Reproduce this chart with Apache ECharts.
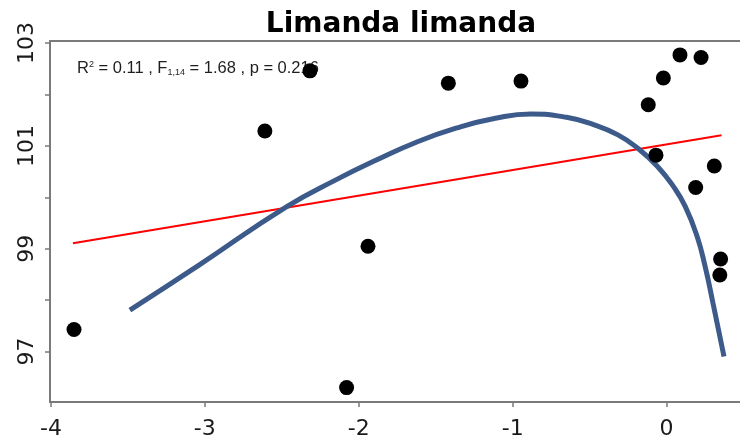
<!DOCTYPE html>
<html>
<head>
<meta charset="utf-8">
<script src="https://cdn.jsdelivr.net/npm/echarts@6/dist/echarts.min.js"></script>
<style>
  html, body { margin: 0; padding: 0; background: #fff; }
  #chart { width: 740px; height: 447px; }
</style>
</head>
<body>
<div id="chart"></div>
<script>
// Observed samples: x = predictor, y = response
const obsX = [-3.85, -2.61, -2.317, -2.079, -1.94, -1.418, -0.946, -0.119, -0.021, 0.087, 0.224, -0.069, 0.31, 0.189, 0.351, 0.346];
const obsY = [97.43, 101.29, 102.46, 96.30, 99.05, 102.22, 102.26, 101.80, 102.32, 102.77, 102.72, 100.82, 100.61, 100.19, 98.80, 98.49];

// Linear fit end points
const linX = [-3.857, 0.357];
const linY = [99.105, 101.206];

// Non-linear fitted curve
const curveX = [-3.487, -3.038, -2.473, -2.139, -1.882, -1.626, -1.368, -1.112, -0.881, -0.650, -0.470, -0.316, -0.187, -0.059, 0.044, 0.121, 0.198, 0.250, 0.301, 0.373];
const curveY = [97.807, 98.681, 99.811, 100.354, 100.730, 101.072, 101.344, 101.537, 101.621, 101.556, 101.409, 101.214, 100.955, 100.601, 100.212, 99.825, 99.243, 98.661, 97.949, 96.903];

// Axis ticks and labels
const xTicks = [-4, -3, -2, -1, 0];
const yTicks = [97, 98, 99, 100, 101, 102, 103];
const yLabels = [97, 99, 101, 103];

const zip = (a, b) => a.map((v, i) => [v, b[i]]);

const axisGray = '#7a7a7a';
const labelFont = { fontFamily: 'DejaVu Sans', fontSize: 22, color: '#1a1a1a' };

const chart = echarts.init(document.getElementById('chart'), null, { renderer: 'canvas' });

chart.setOption({
  animation: false,
  backgroundColor: '#ffffff',
  title: {
    text: 'Limanda limanda',
    left: 396,
    top: 6,
    textAlign: 'center',
    textStyle: { fontFamily: 'DejaVu Sans', fontWeight: 'bold', fontSize: 28, color: '#000' }
  },
  grid: { left: 50, right: 0, top: 41, bottom: 45, containLabel: false },
  xAxis: [
    {
      type: 'value',
      min: -4.006,
      max: 0.477,
      position: 'bottom',
      splitLine: { show: false },
      axisLine: { show: true, onZero: false, lineStyle: { color: axisGray, width: 2 } },
      axisTick: { show: true, length: 5, customValues: xTicks, lineStyle: { color: axisGray, width: 1.5 } },
      axisLabel: { customValues: xTicks, margin: 16, ...labelFont }
    },
    {
      type: 'value',
      min: -4.006,
      max: 0.477,
      position: 'top',
      splitLine: { show: false },
      axisLine: { show: true, onZero: false, lineStyle: { color: axisGray, width: 2 } },
      axisTick: { show: false },
      axisLabel: { show: false }
    }
  ],
  yAxis: {
    type: 'value',
    min: 96.02,
    max: 103.04,
    splitLine: { show: false },
    axisLine: { show: true, onZero: false, lineStyle: { color: axisGray, width: 2 } },
    axisTick: { show: true, length: 5, customValues: yTicks, lineStyle: { color: axisGray, width: 1.5 } },
    axisLabel: { customValues: yLabels, rotate: 90, margin: 12, ...labelFont }
  },
  graphic: [
    {
      type: 'text',
      left: 77,
      top: 60,
      z: 0,
      style: {
        text: 'R{sup|2} = 0.11 , F{sub|1,14} = 1.68 , p = 0.216',
        fontFamily: 'Liberation Sans',
        fontSize: 16.5,
        fill: '#1e1e1e',
        rich: {
          sup: { fontSize: 9, verticalAlign: 'top', padding: [0, 0, 8, 0], fontFamily: 'Liberation Sans', fill: '#1e1e1e' },
          sub: { fontSize: 9, verticalAlign: 'bottom', padding: [8, 0, 0, 0], fontFamily: 'Liberation Sans', fill: '#1e1e1e' }
        }
      }
    }
  ],
  series: [
    {
      type: 'line',
      data: zip(linX, linY),
      symbol: 'none',
      lineStyle: { color: '#ff0000', width: 2 },
      z: 3
    },
    {
      type: 'line',
      data: zip(curveX, curveY),
      symbol: 'none',
      smooth: 0.5,
      lineStyle: { color: '#3c5b8a', width: 5 },
      z: 4
    },
    {
      type: 'scatter',
      data: zip(obsX, obsY),
      symbol: 'circle',
      symbolSize: 15,
      itemStyle: { color: '#000000', opacity: 1 },
      z: 5
    }
  ]
});
</script>
</body>
</html>
